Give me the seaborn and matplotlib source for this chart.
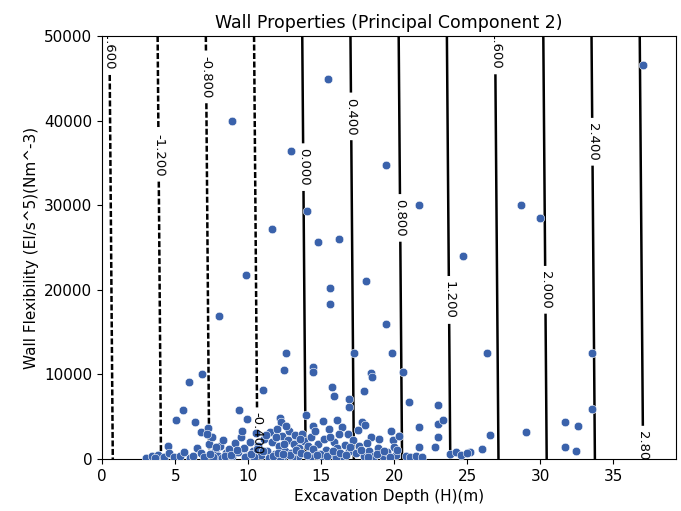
import numpy as np
import pandas as pd
import matplotlib
matplotlib.use("Agg")
import matplotlib.pyplot as plt
import seaborn as sns

# Excavation depth (m) and wall flexibility (Nm^-3) of the case records
depth = [
    15.46, 37.0, 8.9, 12.9, 14.0, 19.4, 21.7, 28.7, 30.0, 11.6, 16.2, 14.8,
    24.7, 9.85, 15.6, 18.07, 15.6, 8.0, 19.4,
    12.6, 12.47, 14.41, 14.45, 15.71, 15.89, 16.9, 16.9, 17.26, 18.4, 18.5,
    17.95, 19.82, 20.57, 20.99, 23.01, 26.37, 33.54, 33.54, 6.85, 5.96,
    10.99, 5.53, 9.38, 5.03, 6.35, 9.89, 6.76, 7.26, 4.48, 12.17, 12.24,
    13.93, 15.14, 16.05, 17.8, 17.99, 14.45, 16.4, 18.4, 18.95, 21.69, 23.0,
    23.36, 23.0, 21.69, 22.79, 26.55, 26.0, 25.2, 19.9, 19.98, 31.69, 32.6,
    29.0, 31.69, 32.45,
    3.0, 3.4, 3.8, 4.2, 4.6, 4.9, 3.6,
    5.3, 5.6, 6.0, 6.5, 6.8, 6.2, 7.0,
    7.3, 7.5, 7.7, 7.9, 8.1, 8.3, 8.5, 8.7, 8.9, 9.1, 9.3, 9.5, 7.2, 7.6, 8.2,
    9.7, 9.9, 10.1, 10.3, 10.5, 10.7, 10.9, 11.1, 9.6, 10.4,
    11.3, 11.5, 11.6, 11.8, 12.0, 12.1, 12.3, 12.4, 12.5, 12.7, 12.8, 12.9,
    13.1, 13.2, 13.4, 13.5, 13.7, 13.8, 11.4, 12.2, 13.0, 11.9, 12.6, 13.3,
    14.1, 14.3, 14.5, 14.6, 14.8, 15.0, 15.2, 15.3, 15.5, 15.7, 15.9, 16.1,
    16.2, 16.4, 16.6, 16.8, 16.9, 14.2, 15.1, 16.0,
    17.2, 17.4, 17.6, 17.9, 18.1, 18.3, 18.6, 18.9, 19.2, 19.5, 19.8, 20.1,
    20.3, 17.5,
    20.8, 21.1, 21.5, 21.9, 23.8, 24.2, 24.6, 25.0,
    7.4, 7.8, 8.4, 8.8, 9.2, 9.8, 10.2, 10.6, 11.0, 11.7, 12.05, 12.45,
    12.85, 13.25, 13.6, 14.0, 14.4, 14.9, 15.4, 15.8, 16.3, 16.7, 17.0,
    17.7, 18.2, 18.8, 19.3, 19.7, 20.2, 11.2, 12.35, 13.55, 14.7, 15.6,
]
flexibility = [
    44900, 46570, 39950, 36400, 29300, 34750, 30000, 30000, 28500, 27200,
    26000, 25650, 24000, 21700, 20200, 21000, 18300, 16900, 16000,
    12490, 10520, 10910, 10320, 8550, 7450, 7060, 6180, 12560, 10130, 9730,
    8070, 12490, 10250, 6780, 6380, 12490, 12490, 5870, 10010, 9070,
    8160, 5790, 5790, 4610, 4410, 4690, 3230, 3630, 1540, 4810, 4410,
    5200, 4530, 4610, 4410, 4020, 3900, 3820, 2560, 2400, 3740, 4140,
    4610, 2640, 1450, 1450, 2840, 1150, 860, 2250, 1450, 4410, 3940,
    3230, 1380, 910,
    150, 300, 500, 250, 700, 200, 100,
    300, 860, 150, 1260, 700, 400, 250,
    1800, 2600, 1000, 400, 1500, 2200, 700, 1200, 300, 1900, 800, 2600, 3000, 200, 100,
    1300, 400, 2000, 900, 3100, 1500, 500, 2400, 3300, 200,
    1000, 3200, 2000, 600, 3500, 1500, 2700, 300, 1000, 2200, 3300, 700,
    1800, 2800, 400, 1300, 3000, 2100, 100, 100, 150, 2600, 3900, 900,
    1500, 2600, 800, 3300, 1800, 300, 2400, 1100, 3500, 600, 2000, 1300,
    2900, 400, 1700, 3000, 900, 100, 100, 150,
    2200, 700, 1500, 300, 1900, 900, 400, 1300, 300, 800, 3300, 500,
    2700, 3400,
    300, 200, 350, 250, 600, 800, 500, 700,
    600, 1400, 300, 500, 1100, 250, 600, 1200, 900, 400, 700, 1800,
    500, 1100, 700, 500, 1200, 600, 400, 1000, 700, 500, 1400,
    1100, 250, 600, 900, 200, 1100, 2800, 600, 2400, 500, 2600,
]

# Principal component 2 expressed as a plane over (depth, flexibility)
pc2_depth_weight = 0.1212
pc2_flex_weight = 5.6e-7
pc2_depth_center = 13.93
levels = [-1.6, -1.2, -0.8, -0.4, 0.0, 0.4, 0.8, 1.2, 1.6, 2.0, 2.4, 2.8]
label_y = [48500, 35900, 45150, 3000, 34500, 40500, 28500, 18800,
           48300, 20000, 37500, 1100]

df = pd.DataFrame({"depth": depth, "flexibility": flexibility})

fig = plt.figure(figsize=(6.81, 5.11), dpi=100)
ax = fig.add_axes([0.150, 0.1018, 0.843, 0.8277])

gx = np.linspace(0, 39.3, 200)
gy = np.linspace(0, 50000, 200)
GX, GY = np.meshgrid(gx, gy)
GZ = pc2_depth_weight * (GX - pc2_depth_center) + pc2_flex_weight * GY

cs = ax.contour(GX, GY, GZ, levels=levels, colors="k", linewidths=1.8,
                negative_linestyles=(0, (2.4, 1.0)))
label_pos = [((lv - pc2_flex_weight * ly) / pc2_depth_weight + pc2_depth_center, ly)
             for lv, ly in zip(levels, label_y)]
ax.clabel(cs, fmt="%1.3f", fontsize=9.5, manual=label_pos, inline=True)

sns.scatterplot(data=df, x="depth", y="flexibility", ax=ax,
                color="#3a62ab", s=38, linewidth=0.4, edgecolor="white",
                zorder=3)

ax.set_xlim(0, 39.3)
ax.set_ylim(0, 50000)
ax.set_xticks([0, 5, 10, 15, 20, 25, 30, 35])
ax.set_yticks([0, 10000, 20000, 30000, 40000, 50000])
ax.tick_params(labelsize=11)
ax.set_title("Wall Properties (Principal Component 2)", fontsize=12.5)
ax.set_xlabel("Excavation Depth (H)(m)", fontsize=11)
ax.set_ylabel("Wall Flexibility (EI/s^5)(Nm^-3)", fontsize=11)

fig.savefig("out.png", dpi=100)
